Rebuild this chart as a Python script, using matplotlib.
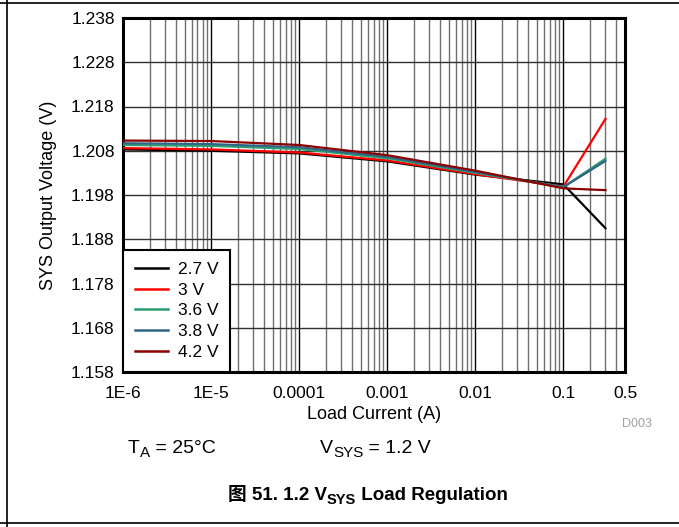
import matplotlib
matplotlib.use('Agg')
import matplotlib.pyplot as plt
from matplotlib.lines import Line2D
from matplotlib.transforms import IdentityTransform
from matplotlib.ticker import FixedLocator, LogLocator, NullFormatter

plt.rcParams['font.family'] = ['Liberation Sans', 'Noto Sans CJK SC']

# Data
load_current = [1e-6, 1e-5, 1e-4, 1e-3, 1e-2, 0.1, 0.3]
v_2p7 = [1.2083, 1.2080, 1.2074, 1.2056, 1.2026, 1.2004, 1.1905]
v_3p0 = [1.2086, 1.2083, 1.2076, 1.2058, 1.2027, 1.1999, 1.2152]
v_3p6 = [1.2093, 1.2091, 1.2084, 1.2063, 1.2030, 1.1998, 1.2062]
v_3p8 = [1.2097, 1.2095, 1.2088, 1.2066, 1.2032, 1.1998, 1.2057]
v_4p2 = [1.2103, 1.2102, 1.2093, 1.2070, 1.2035, 1.1995, 1.1991]

series = [
    ('2.7 V', v_2p7, '#000000'),
    ('3 V', v_3p0, '#ff0000'),
    ('3.6 V', v_3p6, '#2e9e70'),
    ('3.8 V', v_3p8, '#2f6585'),
    ('4.2 V', v_4p2, '#8b0000'),
]

x_ticks = [1e-6, 1e-5, 1e-4, 1e-3, 1e-2, 0.1, 0.5]
x_labels = ['1E-6', '1E-5', '0.0001', '0.001', '0.01', '0.1', '0.5']
y_ticks = [1.158, 1.168, 1.178, 1.188, 1.198, 1.208, 1.218, 1.228, 1.238]
y_labels = ['%.3f' % v for v in y_ticks]

fig = plt.figure(figsize=(6.79, 5.27), dpi=100)
ax = fig.add_axes([123 / 679, 1 - 372 / 527, (625 - 123) / 679, (372 - 18) / 527])

for label, vals, color in series:
    ax.plot(load_current, vals, color=color, lw=1.6, label=label, zorder=3)

ax.set_xscale('log')
ax.set_xlim(1e-6, 0.5)
ax.set_ylim(1.158, 1.238)
ax.xaxis.set_major_locator(FixedLocator(x_ticks))
ax.set_xticklabels(x_labels)
ax.xaxis.set_minor_locator(LogLocator(base=10, subs=range(2, 10), numticks=20))
ax.xaxis.set_minor_formatter(NullFormatter())
ax.set_yticks(y_ticks)
ax.set_yticklabels(y_labels)

ax.grid(which='major', axis='x', color='black', lw=1.0)
ax.grid(which='minor', axis='x', color='#707070', lw=1.0)
ax.grid(which='major', axis='y', color='#303030', lw=1.0)
ax.tick_params(which='both', length=0, labelsize=12.5)
ax.tick_params(axis='x', pad=10)
ax.tick_params(axis='y', pad=6)
for sp in ax.spines.values():
    sp.set_linewidth(2.2)

ax.set_xlabel('Load Current (A)', fontsize=13, labelpad=4)
ax.set_ylabel('SYS Output Voltage (V)', fontsize=13, labelpad=10)

leg = ax.legend(loc='lower left', fontsize=12.5, frameon=True, fancybox=False,
                borderaxespad=0, handlelength=1.9, handletextpad=0.55,
                labelspacing=0.32, borderpad=0.7)
leg.get_frame().set_edgecolor('black')
leg.get_frame().set_linewidth(1.5)
leg.get_frame().set_alpha(1)
for h in leg.get_lines():
    h.set_linewidth(1.8)

fig.text(637 / 679, 1 - 424 / 527, 'D003', fontsize=9, color='#a0a0a0',
         ha='center', va='center')

# Text built from runs so the subscripts and the CJK glyph can be mixed
renderer = fig.canvas.get_renderer()


def put_runs(x_px, y_px, runs, align='left'):
    items = []
    total = 0
    for s, size, dy, weight in runs:
        t = fig.text(0, 0, s, fontsize=size, fontweight=weight,
                     transform=IdentityTransform(), va='baseline')
        w = t.get_window_extent(renderer).width
        items.append((t, w, dy))
        total += w
    x = x_px - total / 2 if align == 'center' else x_px
    for t, w, dy in items:
        t.set_position((x, 527 - y_px + dy))
        x += w


put_runs(128, 453, [('T', 14, 0, 'normal'), ('A', 11, -4, 'normal'),
                    (' = 25°C', 14, 0, 'normal')])
put_runs(320, 453, [('V', 14, 0, 'normal'), ('SYS', 11, -4, 'normal'),
                    (' = 1.2 V', 14, 0, 'normal')])
put_runs(368, 500, [('图 51. 1.2 V', 13.5, 0, 'bold'), ('SYS', 10.5, -4, 'bold'),
                    (' Load Regulation', 13.5, 0, 'bold')], align='center')

# page border lines
fig.add_artist(Line2D([7 / 679, 7 / 679], [0, 1], color='black', lw=1.2,
                      transform=fig.transFigure))
fig.add_artist(Line2D([0, 1], [1 - 3 / 527, 1 - 3 / 527], color='black', lw=1.2,
                      transform=fig.transFigure))
fig.add_artist(Line2D([0, 1], [1 - 523 / 527, 1 - 523 / 527], color='black', lw=1.2,
                      transform=fig.transFigure))

fig.savefig('out.png', dpi=100)
